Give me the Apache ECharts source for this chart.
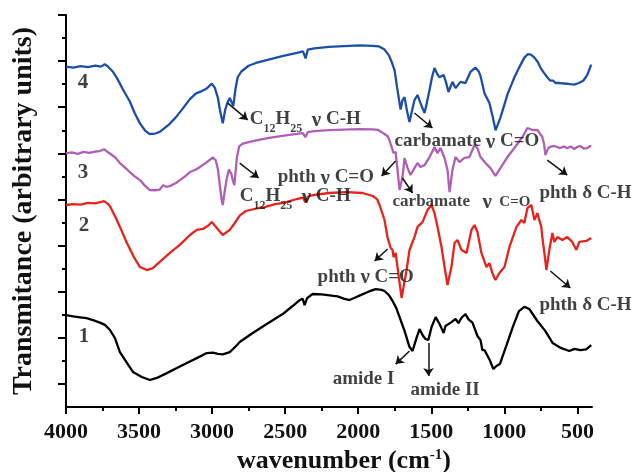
<!DOCTYPE html>
<html>
<head>
<meta charset="utf-8">
<script src="https://cdn.jsdelivr.net/npm/echarts@6.0.0/dist/echarts.min.js"></script>
<style>
  html, body { margin: 0; padding: 0; background: #fff; }
  #chart { width: 637px; height: 472px; }
</style>
</head>
<body>
<div id="chart"></div>
<script>
// FTIR spectra, [wavenumber (cm-1), transmittance (a.u., offset)]
const spec1 = [[4000,3.98],[3950,3.93],[3904,3.89],[3860,3.85],[3815,3.77],[3768,3.66],[3733,3.56],[3699,3.34],[3665,2.99],[3631,2.38],[3583,1.91],[3542,1.52],[3481,1.3],[3426,1.17],[3378,1.26],[3310,1.47],[3241,1.69],[3173,1.91],[3105,2.12],[3036,2.34],[2995,2.36],[2960,2.3],[2927,2.28],[2879,2.38],[2831,2.68],[2811,2.82],[2722,3.21],[2626,3.6],[2517,4.03],[2449,4.38],[2401,4.64],[2380,4.69],[2367,4.42],[2350,4.72],[2312,4.9],[2250,4.88],[2196,4.84],[2141,4.8],[2100,4.7],[2060,4.64],[2020,4.75],[1984,4.85],[1930,5.0],[1881,5.11],[1840,5.08],[1820,5.03],[1790,4.85],[1765,4.6],[1740,4.3],[1717,3.9],[1683,3.3],[1649,2.6],[1628,2.43],[1601,3.0],[1580,3.38],[1560,3.12],[1540,2.95],[1520,2.91],[1498,3.47],[1470,3.9],[1440,3.56],[1415,3.21],[1403,3.51],[1362,3.68],[1334,3.82],[1314,3.64],[1293,3.87],[1266,4.03],[1245,3.8],[1218,3.66],[1184,3.08],[1163,2.9],[1150,2.47],[1136,2.47],[1100,2.04],[1075,1.65],[1054,1.78],[1030,1.87],[985,2.68],[940,3.51],[900,4.16],[863,4.34],[829,4.25],[774,3.73],[720,3.3],[670,2.78],[610,2.55],[555,2.43],[520,2.52],[480,2.47],[440,2.5],[405,2.68]];

const spec2 = [[4000,8.76],[3950,8.8],[3900,8.78],[3850,8.85],[3800,8.83],[3768,8.88],[3740,8.93],[3715,8.82],[3700,8.72],[3679,8.46],[3655,8.15],[3631,7.81],[3583,7.11],[3535,6.5],[3494,6.07],[3447,5.94],[3406,6.02],[3358,6.29],[3289,6.68],[3221,7.03],[3152,7.46],[3105,7.68],[3064,7.72],[3030,7.85],[3002,8.02],[2968,7.76],[2927,7.46],[2879,7.68],[2845,7.98],[2811,8.3],[2770,8.5],[2680,8.63],[2640,8.67],[2570,8.8],[2510,8.85],[2421,9.02],[2378,9.08],[2362,8.88],[2340,9.15],[2300,9.2],[2200,9.28],[2080,9.32],[1970,9.28],[1900,9.15],[1870,9.0],[1854,8.76],[1835,8.4],[1820,8.11],[1800,7.37],[1778,6.9],[1765,6.81],[1758,6.5],[1744,6.68],[1731,6.07],[1717,5.38],[1703,4.73],[1690,5.2],[1669,5.94],[1649,6.81],[1615,7.37],[1594,7.81],[1560,8.02],[1526,8.54],[1498,8.76],[1478,8.41],[1457,7.81],[1430,6.94],[1409,6.07],[1389,5.29],[1362,6.07],[1341,7.11],[1321,7.24],[1293,6.81],[1259,6.68],[1225,7.68],[1204,7.89],[1184,7.59],[1157,6.68],[1122,6.07],[1102,6.24],[1082,5.81],[1061,5.51],[1034,5.81],[999,6.07],[965,6.94],[917,7.81],[883,8.11],[863,7.98],[842,8.63],[815,8.76],[794,8.11],[774,8.41],[747,7.81],[740,7.37],[726,6.68],[712,5.94],[692,6.81],[671,7.55],[658,7.16],[637,7.37],[603,7.24],[569,7.37],[535,7.16],[507,6.81],[487,7.16],[439,7.2],[405,7.33]];

const spec3 = [[4000,11.0],[3960,11.04],[3920,10.98],[3880,11.06],[3840,11.02],[3800,11.08],[3768,11.1],[3740,11.18],[3715,11.06],[3690,10.95],[3660,10.8],[3631,10.58],[3590,10.35],[3563,10.19],[3530,10.0],[3494,9.84],[3460,9.6],[3426,9.41],[3390,9.4],[3358,9.43],[3335,9.62],[3315,9.55],[3290,9.58],[3250,9.7],[3221,9.84],[3185,10.0],[3152,10.19],[3110,10.3],[3084,10.41],[3040,10.6],[2995,10.82],[2975,10.7],[2960,10.3],[2947,9.6],[2935,9.0],[2927,8.76],[2915,9.3],[2900,9.9],[2885,10.3],[2879,10.36],[2868,10.1],[2859,9.84],[2848,9.62],[2838,10.3],[2831,10.8],[2815,11.3],[2790,11.42],[2742,11.5],[2680,11.58],[2620,11.66],[2520,11.76],[2420,11.84],[2378,11.88],[2362,11.7],[2345,11.92],[2300,11.96],[2200,12.01],[2100,12.03],[1990,12.05],[1900,12.04],[1867,12.02],[1840,11.92],[1820,11.84],[1795,11.72],[1775,11.35],[1758,11.01],[1744,11.06],[1731,10.28],[1717,9.41],[1697,9.97],[1683,10.8],[1662,10.36],[1642,10.06],[1615,10.36],[1594,10.58],[1574,10.41],[1546,10.49],[1512,10.84],[1478,11.27],[1458,11.01],[1437,11.23],[1409,10.8],[1389,10.28],[1375,9.32],[1355,10.28],[1334,10.84],[1307,10.62],[1273,10.8],[1239,10.84],[1204,11.36],[1184,11.23],[1163,10.84],[1129,10.58],[1095,10.36],[1061,10.02],[1027,10.36],[979,10.84],[931,11.23],[876,11.71],[842,12.1],[808,12.01],[774,12.02],[740,11.71],[728,11.4],[719,10.93],[705,11.15],[692,11.27],[658,11.32],[617,11.23],[590,11.3],[569,11.22],[545,11.3],[521,11.19],[500,11.28],[480,11.32],[455,11.2],[432,11.23],[412,11.32],[405,11.3]];

const spec4 = [[4000,14.76],[3950,14.72],[3900,14.78],[3850,14.74],[3800,14.8],[3760,14.76],[3735,14.86],[3715,14.78],[3680,14.55],[3650,14.25],[3600,13.65],[3563,13.25],[3530,12.75],[3494,12.3],[3460,12.0],[3430,11.84],[3390,11.86],[3358,11.93],[3300,12.22],[3250,12.55],[3200,12.95],[3152,13.35],[3110,13.6],[3070,13.7],[3040,13.8],[3002,14.02],[2982,13.85],[2960,13.4],[2947,12.9],[2927,12.3],[2910,12.9],[2895,13.2],[2879,13.4],[2865,13.2],[2855,13.05],[2840,13.8],[2825,14.3],[2800,14.55],[2750,14.8],[2700,14.92],[2620,15.05],[2520,15.22],[2420,15.36],[2378,15.42],[2360,15.12],[2345,15.5],[2300,15.55],[2200,15.62],[2100,15.65],[1990,15.68],[1900,15.66],[1860,15.64],[1820,15.5],[1790,15.25],[1770,14.95],[1751,14.6],[1735,13.9],[1720,13.3],[1710,12.9],[1697,13.3],[1683,13.44],[1665,12.8],[1649,12.36],[1630,12.9],[1615,13.31],[1594,13.53],[1574,13.18],[1546,12.75],[1530,13.2],[1512,13.75],[1495,14.3],[1478,14.7],[1460,14.45],[1444,14.3],[1416,14.4],[1400,14.1],[1382,13.66],[1365,13.95],[1355,14.1],[1334,13.83],[1300,14.1],[1266,14.05],[1232,14.53],[1198,14.72],[1175,14.55],[1163,14.35],[1136,13.61],[1102,13.18],[1080,12.6],[1060,12.0],[1050,11.95],[1027,12.55],[1000,13.1],[979,13.55],[950,14.0],[931,14.3],[897,14.74],[863,15.15],[840,15.3],[818,15.28],[794,15.15],[770,14.95],[753,14.72],[730,14.5],[706,14.3],[685,14.15],[665,14.15],[650,14.05],[620,14.05],[589,14.03],[550,14.0],[521,13.98],[490,14.05],[460,14.15],[432,14.4],[412,14.74],[405,14.85]];

const xMajor = [4000, 3500, 3000, 2500, 2000, 1500, 1000, 500];
const xMinor = [3750, 3250, 2750, 2250, 1750, 1250, 750];
const yMajor = [1, 3, 5, 7, 9, 11, 13, 15, 17];
const yMinor = [2, 4, 6, 8, 10, 12, 14, 16];

// curve numbers
const numText = ['1', '2', '3', '4'];
const numPos = [[3877, 3.04], [3877, 7.85], [3884, 10.15], [3884, 14.05]];

// peak annotations: text, text anchor (left-middle), arrow [from, to]
const annoText = [
  '{t|C}{s|12}{t|H}{s|25}{t|  }{v|ν}{t| C-H}',
  '{t|C}{s|12}{t|H}{s|25}{t|  }{v|ν}{t| C-H}',
  '{t|phth }{v|ν}{t| C=O}',
  '{t|carbamate }{v|ν}{t| C=O}',
  '{m|carbamate}',
  '{v|ν}{u|  C=O}',
  '{t|phth δ C-H}',
  '{t|phth }{v|ν}{t| C=O}',
  '{t|phth δ C-H}',
  '{t|amide I}',
  '{t|amide II}'
];
const annoPos = [[2742, 12.53], [2811, 9.19], [2551, 10.02], [1751, 11.58], [1765, 8.93], [1150, 8.98], [760, 9.32], [2278, 5.72], [760, 4.47], [2175, 1.26], [1642, 0.78]];
const arrows = [
  [[2893, 13.18], [2756, 12.45]],
  [[2811, 10.58], [2681, 9.93]],
  [[1744, 10.67], [1840, 10.02]],
  [[1615, 12.75], [1492, 12.1]],
  [[1697, 9.93], [1628, 9.28]],
  [[706, 10.71], [569, 10.06]],
  [[1799, 6.85], [1888, 6.33]],
  [[685, 5.9], [548, 5.16]],
  [[1649, 2.43], [1744, 1.86]],
  [[1519, 2.78], [1519, 1.34]]
];

const serif = '"Liberation Serif", "Times New Roman", serif';
const richStyle = {
  t: { fontFamily: serif, fontWeight: 'bold', fontSize: 19, color: '#111', lineHeight: 22, verticalAlign: 'top' },
  v: { fontFamily: serif, fontWeight: 'bold', fontSize: 21, color: '#111', lineHeight: 21, verticalAlign: 'top' },
  m: { fontFamily: serif, fontWeight: 'bold', fontSize: 17, color: '#111', lineHeight: 22, verticalAlign: 'top' },
  u: { fontFamily: serif, fontWeight: 'bold', fontSize: 15, color: '#111', lineHeight: 22, verticalAlign: 'top', padding: [3, 0, 0, 0] },
  s: { fontFamily: serif, fontWeight: 'bold', fontSize: 12, color: '#111', lineHeight: 12, verticalAlign: 'top', padding: [13, 0, 0, 0] }
};

let chart = echarts.init(document.getElementById('chart'), null, { renderer: 'canvas' });

let option = {
  backgroundColor: '#fff',
  animation: false,
  grid: { left: 66, right: 45, top: 15, bottom: 65, containLabel: false, outerBoundsMode: 'none' },
  xAxis: [
    {
      type: 'value', inverse: true, min: 400, max: 4000, position: 'bottom',
      axisLine: { show: true, lineStyle: { color: '#000', width: 2 } },
      axisTick: { show: true, customValues: xMajor, length: 7, lineStyle: { color: '#000', width: 2 } },
      axisLabel: {
        customValues: xMajor, margin: 14, fontFamily: serif, fontWeight: 'bold', fontSize: 22, color: '#111',
        formatter: function (v) { return String(v); }
      },
      splitLine: { show: false },
      name: '{a|wavenumber (cm}{b|-1}{a|)}',
      nameLocation: 'middle',
      nameGap: 36,
      nameTextStyle: {
        padding: [0, 0, 0, 30],
        rich: {
          a: { fontFamily: serif, fontWeight: 'bold', fontSize: 26, color: '#111', lineHeight: 30, verticalAlign: 'top' },
          b: { fontFamily: serif, fontWeight: 'bold', fontSize: 15, color: '#111', lineHeight: 15, verticalAlign: 'top' }
        }
      }
    },
    {
      type: 'value', inverse: true, min: 400, max: 4000, position: 'bottom',
      axisLine: { show: false },
      axisTick: { show: true, customValues: xMinor, length: 4, lineStyle: { color: '#000', width: 2 } },
      axisLabel: { show: false },
      splitLine: { show: false }
    }
  ],
  yAxis: [
    {
      type: 'value', min: 0, max: 17, position: 'left',
      axisLine: { show: true, lineStyle: { color: '#000', width: 2 } },
      axisTick: { show: true, customValues: yMajor, length: 8, lineStyle: { color: '#000', width: 2 } },
      axisLabel: { show: false },
      splitLine: { show: false },
      name: 'Transmitance (arbitrary units)',
      nameLocation: 'middle',
      nameGap: 28,
      nameTextStyle: { fontFamily: serif, fontWeight: 'bold', fontSize: 28, color: '#111' }
    },
    {
      type: 'value', min: 0, max: 17, position: 'left',
      axisLine: { show: false },
      axisTick: { show: true, customValues: yMinor, length: 4, lineStyle: { color: '#000', width: 2 } },
      axisLabel: { show: false },
      splitLine: { show: false }
    }
  ],
  series: [
    { type: 'line', data: spec1, showSymbol: false, lineStyle: { color: '#000000', width: 2.3 }, z: 2 },
    { type: 'line', data: spec2, showSymbol: false, lineStyle: { color: '#e8231c', width: 2.3 }, z: 2 },
    { type: 'line', data: spec3, showSymbol: false, lineStyle: { color: '#b060b4', width: 2.3 }, z: 2 },
    { type: 'line', data: spec4, showSymbol: false, lineStyle: { color: '#1e4fa6', width: 2.3 }, z: 2 },
    {
      type: 'scatter', symbolSize: 0, z: 5, silent: true,
      data: numPos.map((p, i) => ({ value: p, label: { formatter: numText[i] } })),
      label: { show: true, position: 'inside', fontFamily: serif, fontWeight: 'bold', fontSize: 21, color: '#111' }
    },
    {
      type: 'scatter', symbolSize: 0, z: 5, silent: true,
      data: annoPos.map((p, i) => ({ value: p, label: { formatter: annoText[i] } })),
      label: { show: true, position: 'right', distance: 0, offset: [0, 3], rich: richStyle },
      markLine: {
        silent: true,
        symbol: ['none', 'arrow'],
        symbolSize: 8,
        label: { show: false },
        lineStyle: { color: '#111', width: 1.5, type: 'solid' },
        data: arrows.map(a => [{ coord: a[0] }, { coord: a[1] }])
      }
    }
  ]
};

chart.setOption(option);
</script>
</body>
</html>
